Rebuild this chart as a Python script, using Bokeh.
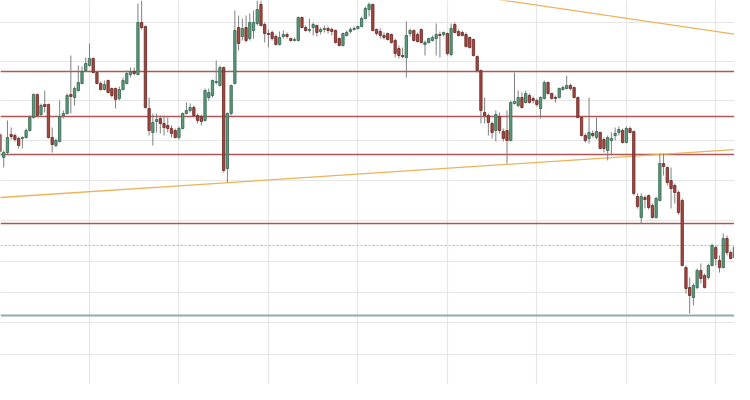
from bokeh.plotting import figure
from bokeh.models import Range1d, FixedTicker, Span, ColumnDataSource
from bokeh.embed import file_html
from bokeh.resources import INLINE

# Hourly candles (price in chart points)
OPEN = [266,243,248,266,265,262,262,263,270,283,
        306,286,296,296,263,255,259,285,287,306,
        303,310,317,330,335,342,328,317,311,320,
        312,312,302,311,317,326,329,326,378,374,
        292,268,279,282,277,275,272,270,263,272,
        287,290,293,285,284,280,303,305,318,315,
        333,232,287,317,373,364,373,362,370,377,
        396,376,367,368,364,356,364,366,362,360,
        360,383,373,370,373,375,369,371,372,371,
        370,362,355,365,369,371,372,374,382,391,
        396,371,369,365,367,366,360,352,345,343,
        367,370,366,371,356,358,360,362,366,366,
        367,346,376,369,368,366,363,361,344,330,
        288,285,277,270,284,269,270,260,297,295,
        303,298,305,302,300,292,302,318,307,303,
        303,311,312,315,313,303,283,265,262,267,
        263,268,261,250,260,265,268,270,258,272,
        269,204,183,203,205,195,183,200,237,233,
        220,215,208,200,133,113,103,113,130,125,
        123,135,153,140,133,162,148,143,154]
HIGH = [268,250,280,273,267,264,264,272,285,307,
        307,297,310,297,273,262,300,290,307,345,
        314,335,334,343,357,343,329,319,320,321,
        313,313,314,323,330,333,333,397,400,375,
        303,287,287,285,285,283,275,272,274,288,
        298,297,295,287,286,312,312,321,340,335,
        334,288,316,390,385,382,385,387,390,400,
        400,378,371,370,366,369,370,368,363,363,
        384,384,375,382,378,376,373,375,374,373,
        371,363,368,370,373,374,375,384,394,398,
        397,372,372,368,368,367,362,355,353,379,
        372,371,368,372,360,363,365,377,369,369,
        368,377,378,371,370,368,364,362,345,331,
        303,287,279,290,288,272,290,300,328,310,
        308,310,307,304,302,304,320,319,308,305,
        313,315,325,317,314,304,284,267,303,270,
        283,269,263,265,268,273,274,272,274,274,
        270,207,207,205,206,197,204,247,247,234,
        233,217,210,202,135,123,117,132,137,127,
        137,157,155,145,167,165,150,155,162]
LOW = [245,233,246,261,259,252,252,262,269,282,
       284,284,288,262,248,253,258,282,286,287,
       295,309,316,329,334,327,316,310,310,307,
       303,292,300,310,316,323,325,325,371,292,
       265,255,268,267,265,268,263,262,261,271,
       286,288,284,277,275,279,300,303,316,314,
       228,218,285,316,350,360,358,360,362,375,
       374,358,353,360,355,355,362,362,359,359,
       359,372,369,368,365,364,366,368,367,365,
       357,354,354,364,367,370,371,373,381,384,
       369,365,362,361,360,357,343,342,342,323,
       364,359,358,357,345,357,359,345,343,364,
       345,344,367,364,364,353,352,344,328,277,
       277,265,262,259,267,259,237,259,296,293,
       292,297,297,297,294,282,301,306,301,298,
       302,310,311,310,302,282,264,258,257,263,
       261,251,248,240,245,260,265,257,257,267,
       205,192,177,192,191,182,182,199,225,215,
       192,197,186,134,107,87,95,111,117,112,
       121,134,135,128,132,145,141,137,148]
CLOSE = [249,248,263,264,261,255,263,270,283,306,
         285,295,294,263,256,260,284,287,305,304,
         312,318,329,337,342,328,317,311,316,308,
         305,301,311,320,327,329,327,378,373,293,
         270,278,281,277,273,272,267,263,272,287,
         290,293,285,280,279,310,308,320,319,333,
         230,287,315,370,357,372,360,378,378,391,
         375,367,366,362,356,363,366,364,360,361,
         383,373,370,371,376,368,371,372,370,369,
         358,355,367,368,371,372,374,382,392,396,
         370,367,365,363,361,358,347,345,344,365,
         370,360,359,358,358,362,363,366,365,368,
         347,372,368,365,365,354,353,345,330,290,
         285,278,268,286,270,262,260,298,299,303,
         293,307,298,300,296,303,318,307,302,302,
         312,313,315,312,303,283,265,260,268,265,
         269,252,252,263,262,267,271,258,272,268,
         207,194,204,201,193,183,202,237,234,218,
         212,208,188,135,112,105,115,130,122,113,
         135,155,142,133,162,148,142,153,155]

DAY_STARTS = [24, 48, 72, 96, 120, 144, 168, 192]
PRICE_GRID = [378, 339, 300, 260, 220, 180, 139, 108, 78, 46, 12]
RESISTANCE_LEVELS = [329, 284, 246, 177]
SUPPORT_LEVEL = 85
CURRENT_LEVEL = 155
LOWER_TREND_X = [0, 201.2]
LOWER_TREND_Y = [203, 252]
UPPER_TREND_X = [130, 201.2]
UPPER_TREND_Y = [403, 364]

n = len(OPEN)
idx = list(range(n))
bull = [CLOSE[i] >= OPEN[i] for i in idx]

p = figure(width=734, height=384, output_backend="svg", toolbar_location=None,
           x_range=Range1d(0.134, 197.02), y_range=Range1d(16, 400),
           min_border=0, background_fill_color="white", border_fill_color="white")
p.outline_line_color = None
p.xaxis.visible = False
p.yaxis.visible = False
p.xgrid.ticker = FixedTicker(ticks=DAY_STARTS)
p.ygrid.ticker = FixedTicker(ticks=PRICE_GRID)
p.grid.grid_line_color = "#e6e6e6"
p.grid.grid_line_width = 1.2

for lv in RESISTANCE_LEVELS:
    p.add_layout(Span(location=lv, dimension="width", line_color="#b05656",
                      line_width=1.6, level="underlay"))
p.add_layout(Span(location=SUPPORT_LEVEL, dimension="width", line_color="#93aaad",
                  line_width=1.8, level="underlay"))
p.add_layout(Span(location=CURRENT_LEVEL, dimension="width", line_color="#a8bdb4",
                  line_width=1, line_dash="2 2", level="underlay"))

p.line(LOWER_TREND_X, LOWER_TREND_Y, line_color="#ecb35a", line_width=1.3)
p.line(UPPER_TREND_X, UPPER_TREND_Y, line_color="#ecb35a", line_width=1.3)

src = ColumnDataSource(dict(
    x=idx,
    top=[max(OPEN[i], CLOSE[i]) for i in idx],
    bottom=[min(OPEN[i], CLOSE[i]) for i in idx],
    high=HIGH, low=LOW,
    fill=["#5c9c7c" if b else "#a5463f" for b in bull],
    edge=["#3b6d56" if b else "#73302b" for b in bull],
))
p.segment(x0="x", y0="low", x1="x", y1="high", source=src, line_color="#808080", line_width=1)
p.vbar(x="x", width=0.62, top="top", bottom="bottom", source=src,
       fill_color="fill", line_color="edge", line_width=0.9)

open("out.html", "w").write(file_html(p, INLINE))
